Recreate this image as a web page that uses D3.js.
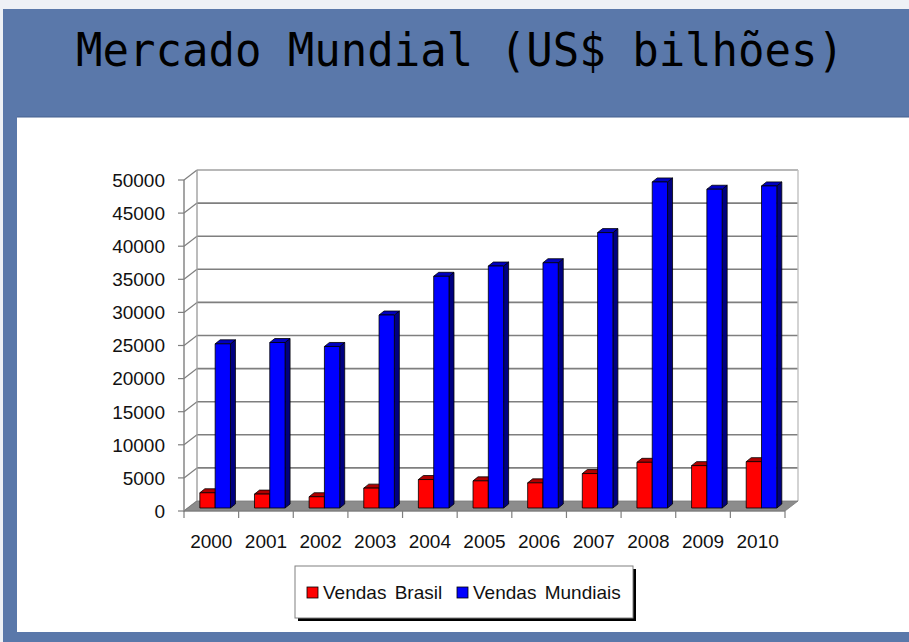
<!DOCTYPE html>
<html><head><meta charset="utf-8">
<script src="https://cdn.jsdelivr.net/npm/d3@7"></script>
<style>html,body{margin:0;padding:0;background:#fff;}svg{display:block;}</style>
</head><body>
<svg id="c" width="909" height="642"></svg>
<script>
const years = ["2000","2001","2002","2003","2004","2005","2006","2007","2008","2009","2010"];
const vendasBrasil = [2300, 2100, 1700, 3000, 4300, 4100, 3800, 5200, 6900, 6400, 7000];
const vendasMundiais = [24800, 25000, 24400, 29150, 35000, 36550, 37050, 41600, 49250, 48150, 48650];
const yTicks = [0,5000,10000,15000,20000,25000,30000,35000,40000,45000,50000];
const seriesNames = ["Vendas Brasil","Vendas Mundiais"];
const titleText = "Mercado Mundial (US$ bilhões)";

const svg = d3.select("#c");
// background
svg.append("rect").attr("x",0).attr("y",0).attr("width",909).attr("height",642).attr("fill","#eef1f6");
svg.append("rect").attr("x",3).attr("y",9).attr("width",906).attr("height",633).attr("fill","#5a78aa");
svg.append("rect").attr("x",17).attr("y",117).attr("width",892).attr("height",515).attr("fill","#ffffff");
svg.append("line").attr("x1",17).attr("x2",909).attr("y1",117).attr("y2",117).attr("stroke","#44608f").attr("stroke-width",1);

svg.append("text").attr("x",460).attr("y",66).attr("text-anchor","middle")
  .attr("font-family","DejaVu Sans Mono, monospace").attr("font-size",44).attr("fill","#000")
  .attr("transform","translate(0,66) scale(1,1.06) translate(0,-66)")
  .text(titleText);

const DX = 13, DY = -10;          // wall depth
const x = d3.scaleBand().domain(years).range([184,785]).paddingInner(0).paddingOuter(0);
const y = d3.scaleLinear().domain([0,50000]).range([511,180]);
const bw = x.bandwidth();
const font = "Liberation Sans, Arial, sans-serif";

const g = svg.append("g");
// gridlines on back wall + diagonal on side wall
yTicks.forEach(t=>{
  const yy = y(t);
  if (t>0) {
    g.append("line").attr("x1",184+DX).attr("x2",785+DX).attr("y1",yy+DY).attr("y2",yy+DY)
      .attr("stroke", t===50000 ? "#a0a0a0" : "#7f7f7f").attr("stroke-width",1.6);
  }
  g.append("line").attr("x1",184).attr("x2",184+DX).attr("y1",yy).attr("y2",yy+DY)
    .attr("stroke","#7f7f7f").attr("stroke-width",1.2);
  g.append("line").attr("x1",178).attr("x2",184).attr("y1",yy).attr("y2",yy)
    .attr("stroke","#7f7f7f").attr("stroke-width",1.2);
  g.append("text").attr("x",165).attr("y",yy).attr("dy","0.36em").attr("text-anchor","end")
    .attr("font-family",font).attr("font-size",19).attr("fill","#111").text(t);
});
// back wall left & right edges
g.append("line").attr("x1",184+DX).attr("x2",184+DX).attr("y1",y(50000)+DY).attr("y2",y(0)+DY).attr("stroke","#a0a0a0").attr("stroke-width",1.4);
g.append("line").attr("x1",785+DX).attr("x2",785+DX).attr("y1",y(50000)+DY).attr("y2",y(0)+DY).attr("stroke","#c0c0c0").attr("stroke-width",1.4);
// front y axis
g.append("line").attr("x1",184).attr("x2",184).attr("y1",y(50000)).attr("y2",y(0)+1).attr("stroke","#7f7f7f").attr("stroke-width",1.4);
// floor
g.append("path").attr("d",`M184,${y(0)}L${184+DX},${y(0)+DY}L${785+DX},${y(0)+DY}L785,${y(0)}Z`)
  .attr("fill","#8c8c8c").attr("stroke","#7a7a7a").attr("stroke-width",0.8);
// x ticks
years.concat(["end"]).forEach((yr,i)=>{
  const xx = 184 + i*bw;
  g.append("line").attr("x1",xx).attr("x2",xx).attr("y1",y(0)).attr("y2",y(0)+7).attr("stroke","#7f7f7f").attr("stroke-width",1.2);
});
g.append("line").attr("x1",184).attr("x2",785).attr("y1",y(0)).attr("y2",y(0)).attr("stroke","#7f7f7f").attr("stroke-width",1.2);
years.forEach(yr=>{
  g.append("text").attr("x",x(yr)+bw/2).attr("y",548).attr("text-anchor","middle")
    .attr("font-family",font).attr("font-size",19).attr("fill","#111").text(yr);
});

// bars
const BD = 5, BDY = -4, SH = -3;
function bar(x0, w, v, front, top, side){
  const yb = y(0)+SH, yt = y(v)+SH;
  const bg = g.append("g").attr("stroke","#000").attr("stroke-width",0.8).attr("stroke-linejoin","round");
  bg.append("path").attr("d",`M${x0+w},${yt}L${x0+w+BD},${yt+BDY}L${x0+w+BD},${yb+BDY}L${x0+w},${yb}Z`).attr("fill",side);
  bg.append("path").attr("d",`M${x0},${yt}L${x0+BD},${yt+BDY}L${x0+w+BD},${yt+BDY}L${x0+w},${yt}Z`).attr("fill",top);
  bg.append("rect").attr("x",x0).attr("y",yt).attr("width",w).attr("height",yb-yt).attr("fill",front);
}
const wBar = bw*0.28;
years.forEach((yr,i)=>{
  const x0 = x(yr) + bw*0.29;
  bar(x0, wBar, vendasBrasil[i], "#ff0000", "#b00000", "#800000");
  bar(x0+wBar, wBar, vendasMundiais[i], "#0000ff", "#0000c0", "#000080");
});

// legend
const lg = svg.append("g");
lg.append("rect").attr("x",298).attr("y",569).attr("width",338).attr("height",52).attr("fill","#000");
lg.append("rect").attr("x",295).attr("y",566).attr("width",338).attr("height",52).attr("fill","#fff").attr("stroke","#808080").attr("stroke-width",1);
const legColors = ["#ff0000","#0000ff"];
const legX = [307, 457];
seriesNames.forEach((n,i)=>{
  lg.append("rect").attr("x",legX[i]).attr("y",587).attr("width",11).attr("height",11).attr("fill",legColors[i]).attr("stroke","#000").attr("stroke-width",0.8);
  lg.append("text").attr("x",legX[i]+16).attr("y",599).attr("font-family",font).attr("font-size",19).attr("word-spacing","3px").attr("fill","#111").text(n);
});
</script>
</body></html>
